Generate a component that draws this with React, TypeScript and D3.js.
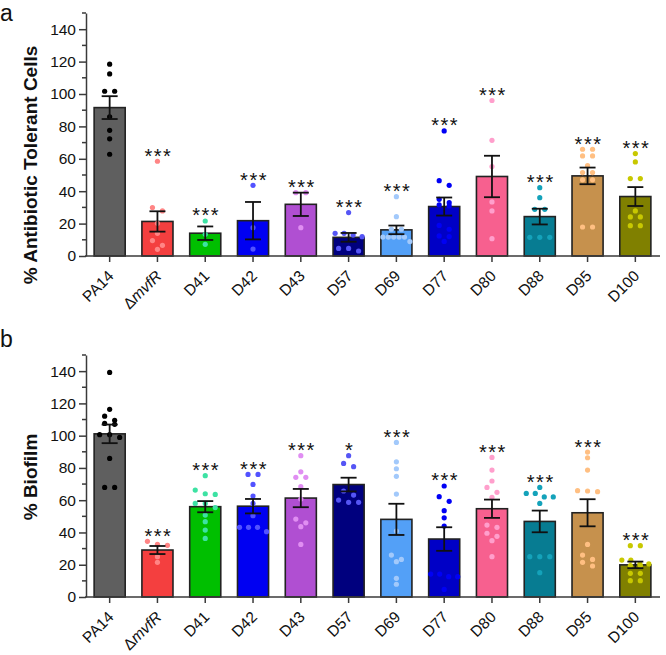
import { useEffect, useRef } from 'react';
import * as d3 from 'd3';

const strains = ['PA14', 'mvfR', 'D41', 'D42', 'D43', 'D57', 'D69', 'D77', 'D80', 'D88', 'D95', 'D100'];

const barColors = ['#5f5f5f', '#f43f3f', '#00bf00', '#0000f2', '#b04fd2', '#00007e', '#53a0f7', '#0000c6', '#f7608f', '#077c92', '#c6914d', '#808000'];
const dotColors = ['#000000', '#ff8585', '#3de2a3', '#5252ff', '#e08ef2', '#5555f5', '#a2c9fb', '#0000f5', '#ff9fcc', '#14a2ba', '#ffbf82', '#c8c800'];

// panel a: % antibiotic tolerant cells, one array per strain
const tolerance = [
  [118.4, 112.4, 101.7, 101.7, 85.9, 77.6, 72.3, 62.8],
  [58.5, 29.9, 27.8, 20.2, 14.0, 9.5, 6.6, 4.1],
  [21.6, 13.4, 7.2],
  [43.6, 17.5, 4.3],
  [39.1, 39.1, 17.5],
  [26.8, 14.0, 14.0, 12.9, 11.9, 4.7, 4.7, 3.1],
  [36.6, 24.3, 16.5, 16.5, 11.7, 11.7, 11.7, 11.7, 11.7, 8.9],
  [77.2, 46.5, 43.6, 35.0, 32.9, 31.5, 30.9, 18.9, 16.5, 12.4, 12.0, 9.0],
  [96.0, 71.4, 55.2, 33.4, 27.8, 10.7],
  [42.2, 36.0, 28.8, 28.8, 11.5, 11.5, 11.5],
  [65.9, 65.9, 61.8, 61.8, 55.8, 51.5, 51.5, 47.0, 47.0, 17.9, 17.9],
  [63.2, 58.1, 47.8, 47.8, 27.8, 24.1, 24.1, 18.7, 18.7],
];
const toleranceStars = ['', '***', '***', '***', '***', '***', '***', '***', '***', '***', '***', '***'];

// panel b: % biofilm
const biofilm = [
  [139.2, 116.3, 112.1, 109.5, 107.6, 107.0, 100.6, 100.6, 98.9, 85.9, 67.9, 67.9],
  [34.5, 32.6, 32.0, 25.0, 21.5],
  [75.2, 66.3, 64.0, 63.6, 58.0, 58.0, 55.4, 50.8, 46.7, 41.5, 36.3],
  [76.0, 76.0, 69.8, 62.6, 58.0, 50.4, 43.2, 43.2, 43.2, 40.5],
  [87.6, 77.6, 74.2, 74.2, 68.4, 60.7, 48.3, 46.0, 43.6, 32.6],
  [87.6, 82.8, 80.8, 65.7, 63.2, 60.1, 58.7, 58.7],
  [95.8, 83.8, 79.5, 74.8, 63.8, 40.9, 26.0, 23.3, 21.9, 11.6, 7.9],
  [68.8, 62.2, 59.3, 53.5, 49.1, 44.0, 14.2, 14.2, 12.6, 12.6, 4.7],
  [86.5, 78.7, 71.9, 67.9, 64.9, 61.8, 44.6, 43.2, 39.5, 37.6, 34.9, 25.0],
  [67.9, 64.2, 64.2, 62.0, 62.0, 58.0, 25.0, 25.0, 25.0, 15.1],
  [89.8, 86.3, 78.7, 65.9, 65.7, 65.3, 32.6, 26.0, 23.3, 21.5, 19.2],
  [31.8, 31.8, 22.9, 22.9, 20.5, 20.5, 19.5, 19.5, 14.7, 14.7, 10.1, 10.1],
];
const biofilmStars = ['', '***', '***', '***', '***', '*', '***', '***', '***', '***', '***', '***'];

const majorTicks = [0, 20, 40, 60, 80, 100, 120, 140];
const minorTicks = [10, 30, 50, 70, 90, 110, 130, 150];

const FONT = '"Liberation Sans", Arial, Helvetica, sans-serif';

type Panel = {
  letter: string;
  title: string;
  values: number[][];
  stars: string[];
  y0: number;
  y1: number;
  titleY: number;
  letterY: number;
};

const panels: Panel[] = [
  { letter: 'a', title: '% Antibiotic Tolerant Cells', values: tolerance, stars: toleranceStars, y0: 256, y1: 13, titleY: 165, letterY: 21 },
  { letter: 'b', title: '% Biofilm', values: biofilm, stars: biofilmStars, y0: 597, y1: 355, titleY: 477, letterY: 347 },
];

// group near-equal values into rows and spread them sideways like Prism does
function spread(vals: number[], y: d3.ScaleLinear<number, number>) {
  const sorted = vals.slice().sort((a, b) => b - a);
  const rows: number[][] = [];
  sorted.forEach(v => {
    const last = rows[rows.length - 1];
    if (last && Math.abs(y(v) - y(last[0])) < 5) last.push(v);
    else rows.push([v]);
  });
  const out: { v: number; dx: number }[] = [];
  rows.forEach(row => {
    const n = row.length;
    const sp = n <= 3 ? 10 : 27 / (n - 1);
    row.forEach((v, i) => out.push({ v, dx: (i - (n - 1) / 2) * sp }));
  });
  return out;
}

export default function App() {
  const ref = useRef<SVGSVGElement>(null);

  useEffect(() => {
    const svg = d3.select(ref.current);
    svg.selectAll('*').remove();

    const x = d3.scaleBand().domain(strains).range([86, 659]).paddingInner(0.35).paddingOuter(0.17);
    const axisColor = '#3a3a3a';

    panels.forEach(p => {
      const y = d3.scaleLinear().domain([0, 150]).range([p.y0, p.y1]);
      const g = svg.append('g');

      const stats = p.values.map(v => {
        const mean = d3.mean(v) as number;
        const sem = (d3.deviation(v) as number) / Math.sqrt(v.length);
        return { mean, sem, max: d3.max(v) as number };
      });

      // bars
      g.selectAll('rect.bar')
        .data(strains)
        .join('rect')
        .attr('x', d => x(d) as number)
        .attr('y', (d, i) => y(stats[i].mean))
        .attr('width', x.bandwidth())
        .attr('height', (d, i) => y(0) - y(stats[i].mean))
        .attr('fill', (d, i) => barColors[i])
        .attr('stroke', '#222')
        .attr('stroke-width', 1.6);

      // dots
      strains.forEach((s, i) => {
        const cx = (x(s) as number) + x.bandwidth() / 2;
        g.append('g')
          .selectAll('circle')
          .data(spread(p.values[i], y))
          .join('circle')
          .attr('cx', d => cx + d.dx)
          .attr('cy', d => y(d.v))
          .attr('r', 2.6)
          .attr('fill', dotColors[i]);
      });

      // error bars (mean ± SEM)
      strains.forEach((s, i) => {
        const cx = (x(s) as number) + x.bandwidth() / 2;
        const { mean, sem } = stats[i];
        const eb = g.append('g').attr('stroke', '#111').attr('stroke-width', 1.8);
        eb.append('line').attr('x1', cx).attr('x2', cx).attr('y1', y(mean - sem)).attr('y2', y(mean + sem));
        [mean - sem, mean + sem].forEach(v => {
          eb.append('line').attr('x1', cx - 8).attr('x2', cx + 8).attr('y1', y(v)).attr('y2', y(v));
        });
      });

      // significance stars
      strains.forEach((s, i) => {
        if (!p.stars[i]) return;
        const cx = (x(s) as number) + x.bandwidth() / 2;
        const top = Math.min(y(stats[i].max), y(stats[i].mean + stats[i].sem));
        const fs = 20;
        g.append('text')
          .attr('x', cx + 1)
          .attr('y', top - 10 + 0.57 * fs)
          .attr('text-anchor', 'middle')
          .attr('font-family', FONT)
          .attr('font-size', fs)
          .attr('letter-spacing', 1.5)
          .attr('fill', '#111')
          .text(p.stars[i]);
      });

      // y axis
      const ya = g.append('g')
        .attr('transform', 'translate(86,0)')
        .call(d3.axisLeft(y).tickValues(majorTicks).tickSize(7).tickSizeOuter(0).tickPadding(3));
      ya.selectAll('text').attr('font-family', FONT).attr('font-size', 15.5).attr('fill', '#111');
      ya.selectAll('line, path').attr('stroke', axisColor).attr('stroke-width', 1.5);
      g.append('g')
        .selectAll('line')
        .data(minorTicks)
        .join('line')
        .attr('x1', 82)
        .attr('x2', 86)
        .attr('y1', d => y(d))
        .attr('y2', d => y(d))
        .attr('stroke', axisColor)
        .attr('stroke-width', 1.5);

      // x axis
      g.append('line')
        .attr('x1', 85)
        .attr('x2', 660)
        .attr('y1', y(0))
        .attr('y2', y(0))
        .attr('stroke', axisColor)
        .attr('stroke-width', 1.5);
      strains.forEach(s => {
        const cx = (x(s) as number) + x.bandwidth() / 2;
        g.append('line')
          .attr('x1', cx)
          .attr('x2', cx)
          .attr('y1', y(0))
          .attr('y2', y(0) + 6)
          .attr('stroke', axisColor)
          .attr('stroke-width', 1.5);
        const t = g.append('text')
          .attr('transform', `translate(${cx + 5},${y(0) + 21}) rotate(-45)`)
          .attr('text-anchor', 'end')
          .attr('font-family', FONT)
          .attr('font-size', 15.5)
          .attr('fill', '#111');
        if (s === 'mvfR') {
          t.append('tspan').attr('font-style', 'normal').text('Δ');
          t.append('tspan').attr('font-style', 'italic').text('mvfR');
        } else {
          t.text(s);
        }
      });

      // axis title
      g.append('text')
        .attr('transform', `translate(37,${p.titleY}) rotate(-90)`)
        .attr('text-anchor', 'middle')
        .attr('font-family', FONT)
        .attr('font-weight', 'bold')
        .attr('font-size', 19)
        .attr('fill', '#111')
        .text(p.title);

      // panel letter
      g.append('text')
        .attr('x', 0)
        .attr('y', p.letterY)
        .attr('font-family', FONT)
        .attr('font-size', 23)
        .attr('fill', '#111')
        .text(p.letter);
    });
  }, []);

  return (
    <svg
      ref={ref}
      width={666}
      height={655}
      style={{ position: 'absolute', left: 0, top: 0, background: '#fff' }}
    ></svg>
  );
}
